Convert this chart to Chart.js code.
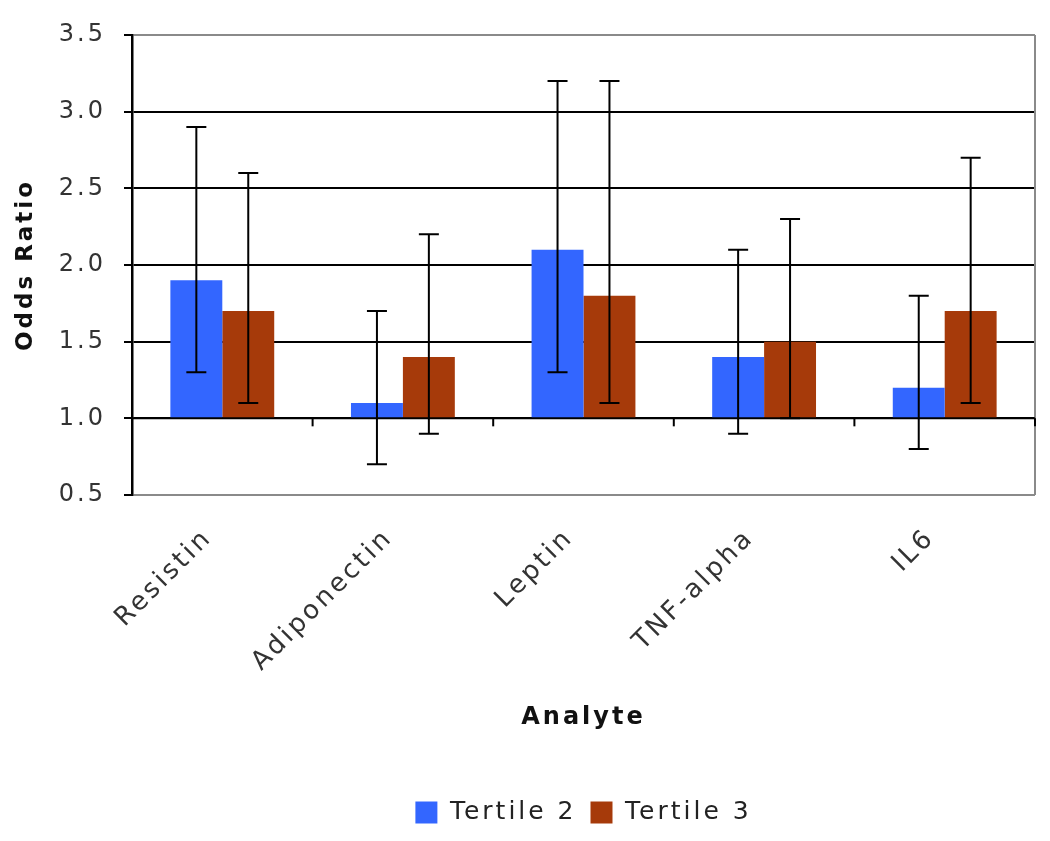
<!DOCTYPE html>
<html>
<head>
<meta charset="utf-8">
<script src="https://cdn.jsdelivr.net/npm/chart.js@4"></script>
<style>
  body { margin: 0; background: #fff; }
  #myChart { display: block; }
</style>
</head>
<body>
<canvas id="myChart" width="1050" height="841"></canvas>
<script>
// data
let categories = ['Resistin', 'Adiponectin', 'Leptin', 'TNF-alpha', 'IL6']
let tertile2 = [1.9, 1.1, 2.1, 1.4, 1.2]
let tertile3 = [1.7, 1.4, 1.8, 1.5, 1.7]
let t2Low = [1.3, 0.7, 1.3, 0.9, 0.8]
let t2High = [2.9, 1.7, 3.2, 2.1, 1.8]
let t3Low = [1.1, 0.9, 1.1, 1.0, 1.1]
let t3High = [2.6, 2.2, 3.2, 2.3, 2.7]
let baseline = 1.0
let yTicks = [0.5, 1.0, 1.5, 2.0, 2.5, 3.0, 3.5]

let errs = [[t2Low, t2High], [t3Low, t3High]]

// bars hang from the 1.0 line
function floating(vals) {
    return vals.map(v => [baseline, v])
}

const spacing = {
    id: 'spacing',
    beforeUpdate(chart) { chart.ctx.letterSpacing = '3px' },
    beforeDraw(chart) { chart.ctx.letterSpacing = '3px' }
}

const extras = {
    id: 'extras',
    afterDatasetsDraw(chart) {
        let ctx = chart.ctx, y = chart.scales.y, x = chart.scales.x
        let area = chart.chartArea
        ctx.save()
        ctx.letterSpacing = '0px'
        // right frame line
        ctx.strokeStyle = '#8a8a8a'
        ctx.lineWidth = 2
        ctx.beginPath()
        ctx.moveTo(area.right, area.top)
        ctx.lineTo(area.right, area.bottom)
        ctx.stroke()
        // the 1.0 line sits over the bars, with category tick marks
        let y1 = y.getPixelForValue(baseline)
        ctx.strokeStyle = '#000'
        ctx.lineWidth = 2
        ctx.beginPath()
        ctx.moveTo(area.left, y1)
        ctx.lineTo(area.right, y1)
        ctx.stroke()
        for (let i = 0; i < categories.length; i++) {
            let bx = i < categories.length - 1
                ? (x.getPixelForTick(i) + x.getPixelForTick(i + 1)) / 2
                : area.right
            ctx.beginPath()
            ctx.moveTo(bx, y1)
            ctx.lineTo(bx, y1 + 8)
            ctx.stroke()
        }
        // error bars
        ctx.lineWidth = 2
        chart.data.datasets.forEach((ds, di) => {
            let meta = chart.getDatasetMeta(di)
            meta.data.forEach((bar, i) => {
                let lo = y.getPixelForValue(errs[di][0][i])
                let hi = y.getPixelForValue(errs[di][1][i])
                ctx.beginPath()
                ctx.moveTo(bar.x, lo)
                ctx.lineTo(bar.x, hi)
                ctx.moveTo(bar.x - 10, lo)
                ctx.lineTo(bar.x + 10, lo)
                ctx.moveTo(bar.x - 10, hi)
                ctx.lineTo(bar.x + 10, hi)
                ctx.stroke()
            })
        })
        ctx.restore()
    }
}

let ctx = document.getElementById('myChart').getContext('2d')
let myChart = new Chart(ctx, {
    type: 'bar',
    data: {
        labels: categories,
        datasets: [{
            label: 'Tertile 2',
            data: floating(tertile2),
            backgroundColor: '#3366ff',
            borderWidth: 0
        }, {
            label: 'Tertile 3',
            data: floating(tertile3),
            backgroundColor: '#a63a0a',
            borderWidth: 0
        }]
    },
    options: {
        responsive: false,
        animation: false,
        categoryPercentage: 0.575,
        barPercentage: 1.0,
        layout: { padding: { left: 0, top: 35, right: 15, bottom: 6 } },
        plugins: {
            tooltip: { enabled: false },
            legend: {
                position: 'bottom',
                fullSize: false,
                labels: {
                    boxWidth: 22,
                    boxHeight: 22,
                    padding: 14,
                    color: '#222',
                    font: { family: 'DejaVu Sans', size: 25 }
                }
            }
        },
        scales: {
            x: {
                grid: { display: false },
                border: { display: false },
                ticks: {
                    minRotation: 45,
                    maxRotation: 45,
                    padding: 20,
                    labelOffset: -14,
                    color: '#333',
                    font: { family: 'DejaVu Sans', size: 26 }
                },
                title: {
                    display: true,
                    text: 'Analyte',
                    color: '#111',
                    font: { family: 'DejaVu Sans', size: 24, weight: 'bold' },
                    padding: { top: 0, bottom: 54 }
                },
                afterFit(scale) { scale.height = 291 }
            },
            y: {
                min: 0.5,
                max: 3.5,
                afterBuildTicks(scale) { scale.ticks = yTicks.map(v => ({ value: v })) },
                grid: {
                    color: c => (c.tick && (c.tick.value == 0.5 || c.tick.value == 3.5)) ? '#8a8a8a' : '#000',
                    lineWidth: 2,
                    tickColor: '#000',
                    tickLength: 8
                },
                border: { display: true, color: '#000', width: 2.5 },
                ticks: {
                    padding: 18,
                    color: '#333',
                    font: { family: 'DejaVu Sans', size: 24 },
                    callback: v => Number(v).toFixed(1)
                },
                title: {
                    display: true,
                    text: 'Odds Ratio',
                    color: '#111',
                    font: { family: 'DejaVu Sans', size: 23, weight: 'bold' },
                    padding: { top: 12, bottom: 0 }
                },
                afterFit(scale) { scale.width = 132 }
            }
        }
    },
    plugins: [spacing, extras]
})
</script>
</body>
</html>
